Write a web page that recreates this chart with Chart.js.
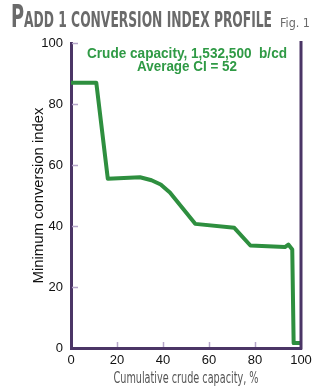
<!DOCTYPE html>
<html>
<head>
<meta charset="utf-8">
<script src="https://cdn.jsdelivr.net/npm/chart.js@4/dist/chart.umd.min.js"></script>
<style>
  html, body { margin: 0; padding: 0; background: #fff; }
  #wrap { position: relative; width: 325px; height: 390px; overflow: hidden; }
  .ttl { position: absolute; top: 0; white-space: nowrap; transform-origin: 0 0;
    font-family: "DejaVu Sans Condensed", "DejaVu Sans", sans-serif; color: #6a6a6a; line-height: 1; }
  #title { left: 11px; font-weight: bold; }
  #title .big { font-size: 32px; }
  #title .rest { font-size: 22px; }
  #fig { left: 280px; font-size: 32px; }
  #fig span { font-size: 12px; }
</style>
</head>
<body>
<div id="wrap">
  <canvas id="c" width="325" height="390"></canvas>
  <div id="title" class="ttl"><span class="big">P</span><span class="rest">ADD 1 CONVERSION INDEX PROFILE</span></div>
  <div id="fig" class="ttl"><span>Fig. 1</span></div>
</div>
<script>
const capacityPct = [0, 11, 16, 30, 35, 39, 43, 54, 71, 78, 93, 94.5, 96.2, 96.8, 100];
const conversionIndex = [87, 87, 55.5, 56, 55, 53.6, 51, 40.7, 39.4, 33.6, 33.1, 33.9, 32.3, 1.6, 1.6];
const xTickValues = [0, 20, 40, 60, 80, 100];
const yTickValues = [0, 20, 40, 60, 80, 100];
const noteLines = ["Crude capacity, 1,532,500  b/cd", "Average CI = 52"];
const xTitle = "Cumulative crude capacity, %";
const yTitle = "Minimum conversion index";

// fit title widths
(function () {
  const t = document.getElementById('title');
  const w = t.getBoundingClientRect().width;
  t.style.transform = 'scaleX(' + (261 / w) + ')';
  const f = document.getElementById('fig');
  const fw = f.querySelector('span').getBoundingClientRect().width;
  f.style.transform = 'scaleX(' + (30 / fw) + ')';
})();

const AXIS = '#4b3566';
const TICK = '#b5a6c9';
const GREEN = '#2e8f3f';

function drawFitted(ctx, text, cx, cy, width, rot) {
  const w = ctx.measureText(text).width;
  ctx.save();
  ctx.translate(cx, cy);
  if (rot) ctx.rotate(rot);
  ctx.scale(width / w, 1);
  ctx.fillText(text, 0, 0);
  ctx.restore();
}

const extras = {
  id: 'extras',
  afterDraw(chart) {
    const {ctx, chartArea: a, scales: {x, y}} = chart;
    ctx.save();
    // inner tick marks
    ctx.strokeStyle = TICK; ctx.lineWidth = 1.5;
    yTickValues.slice(1).forEach(v => {
      const py = Math.round(y.getPixelForValue(v)) + 0.5;
      ctx.beginPath(); ctx.moveTo(a.left + 1, py); ctx.lineTo(a.left + 7, py); ctx.stroke();
    });
    xTickValues.slice(1, -1).forEach(v => {
      const px = Math.round(x.getPixelForValue(v)) + 0.5;
      ctx.beginPath(); ctx.moveTo(px, a.bottom - 1); ctx.lineTo(px, a.bottom - 6); ctx.stroke();
    });
    // right frame
    ctx.strokeStyle = AXIS; ctx.lineWidth = 3;
    const rx = x.getPixelForValue(100);
    ctx.beginPath(); ctx.moveTo(rx, a.top - 2); ctx.lineTo(rx, a.bottom + 1.5); ctx.stroke();
    // note text
    ctx.fillStyle = '#2f9a45';
    ctx.font = 'bold 14px "Liberation Sans", Arial, sans-serif';
    ctx.textAlign = 'center'; ctx.textBaseline = 'alphabetic';
    const cx = (a.left + a.right) / 2 + 1;
    drawFitted(ctx, noteLines[0], cx, a.top + 15, 200);
    drawFitted(ctx, noteLines[1], cx, a.top + 28, 100);
    // x axis title (condensed)
    ctx.fillStyle = '#555';
    ctx.font = '15px "DejaVu Sans Condensed", "DejaVu Sans", sans-serif';
    drawFitted(ctx, xTitle, (a.left + a.right) / 2, 383, 145);
    // y axis title
    ctx.fillStyle = '#111';
    ctx.font = '14px "Liberation Sans", Arial, sans-serif';
    drawFitted(ctx, yTitle, 42.5, (y.getPixelForValue(0) + y.getPixelForValue(100)) / 2, 176, -Math.PI / 2);
    ctx.restore();
  }
};

new Chart(document.getElementById('c'), {
  type: 'line',
  data: {
    datasets: [{
      data: capacityPct.map((v, i) => ({x: v, y: conversionIndex[i]})),
      borderColor: GREEN,
      borderWidth: 4,
      pointRadius: 0,
      tension: 0,
      fill: false,
      borderJoinStyle: 'round'
    }]
  },
  options: {
    responsive: false,
    animation: false,
    layout: { padding: { top: 43, right: 24, left: 0, bottom: 0 } },
    plugins: { legend: { display: false }, tooltip: { enabled: false } },
    scales: {
      x: {
        type: 'linear', min: 0, max: 100,
        afterBuildTicks: s => { s.ticks = xTickValues.map(v => ({value: v})); },
        ticks: { padding: 5, color: '#111', font: { family: '"Liberation Sans", Arial, sans-serif', size: 13 } },
        grid: { display: false, drawTicks: false },
        border: { display: true, color: AXIS, width: 3 },
        title: { display: false, text: xTitle },
        afterFit: s => { s.height = 42; }
      },
      y: {
        type: 'linear', min: 0, max: 100,
        afterBuildTicks: s => { s.ticks = yTickValues.map(v => ({value: v})); },
        ticks: { padding: 8, color: '#111', font: { family: '"Liberation Sans", Arial, sans-serif', size: 13 } },
        grid: { display: false, drawTicks: false },
        border: { display: true, color: AXIS, width: 3 },
        title: { display: false, text: yTitle },
        afterFit: s => { s.width = 71; }
      }
    }
  },
  plugins: [extras]
});
</script>
</body>
</html>
